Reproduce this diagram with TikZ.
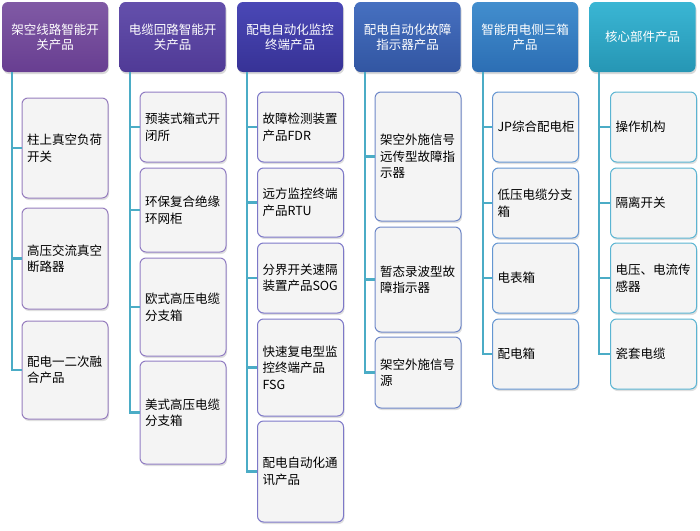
\documentclass[tikz,border=0pt]{standalone}
\usepackage{fontspec}
\setmainfont{Noto Sans CJK SC}
\usetikzlibrary{shadows}

\definecolor{hdA}{RGB}{128,90,165}  \definecolor{hdAd}{RGB}{104,62,145}
\definecolor{hdB}{RGB}{100,80,172}  \definecolor{hdBd}{RGB}{80,58,150}
\definecolor{hdC}{RGB}{74,72,182}   \definecolor{hdCd}{RGB}{55,50,150}
\definecolor{hdD}{RGB}{70,112,192}  \definecolor{hdDd}{RGB}{50,86,162}
\definecolor{hdE}{RGB}{66,142,206}  \definecolor{hdEd}{RGB}{44,110,180}
\definecolor{hdF}{RGB}{58,182,212}  \definecolor{hdFd}{RGB}{38,150,180}
\definecolor{lfA}{RGB}{150,125,190}
\definecolor{lfB}{RGB}{145,125,195}
\definecolor{lfC}{RGB}{125,120,200}
\definecolor{lfD}{RGB}{110,135,200}
\definecolor{lfE}{RGB}{100,150,210}
\definecolor{lfF}{RGB}{90,180,210}
\definecolor{trunkc}{RGB}{75,172,198}
\definecolor{leaffill}{RGB}{244,244,244}

\tikzset{
  head/.style={rectangle, rounded corners=6pt, minimum width=106pt, minimum height=70pt,
    text=white, align=center, inner sep=2pt, font=\fontsize{12.5}{15}\selectfont,
    drop shadow={opacity=0.3, shadow xshift=1pt, shadow yshift=-2pt}},
  leaf/.style={rectangle, rounded corners=6pt, draw=#1, line width=1pt, fill=leaffill,
    minimum width=86pt, text width=76pt, inner xsep=5pt, align=left,
    font=\fontsize{12.5}{16.5}\selectfont,
    drop shadow={opacity=0.25, shadow xshift=1pt, shadow yshift=-2pt}},
  trunk/.style={draw=trunkc, line width=2.5pt},
}

\begin{document}
\begin{tikzpicture}[x=1pt, y=-1pt]
        \useasboundingbox (0,0) rectangle (700,530);

        % headers
        \node[head, top color=hdA, bottom color=hdAd] (h1) at (55,37) {架空线路智能开\\关产品};
        \node[head, top color=hdB, bottom color=hdBd] (h2) at (172.5,37) {电缆回路智能开\\关产品};
        \node[head, top color=hdC, bottom color=hdCd] (h3) at (290,37) {配电自动化监控\\终端产品};
        \node[head, top color=hdD, bottom color=hdDd] (h4) at (407.5,37) {配电自动化故障\\指示器产品};
        \node[head, top color=hdE, bottom color=hdEd] (h5) at (525,37) {智能用电侧三箱\\产品};
        \node[head, top color=hdF, bottom color=hdFd] (h6) at (642.5,37) {核心部件产品};

        \coordinate (t1) at (12,72);
        \coordinate (t2) at (130,72);
        \coordinate (t3) at (247,72);
        \coordinate (t4) at (365,72);
        \coordinate (t5) at (483,72);
        \coordinate (t6) at (599,72);

        % column 1
        \node[leaf=lfA, minimum height=100pt] (a1) at (65,148) {柱上真空负荷\\开关};
        \node[leaf=lfA, minimum height=101pt] (a2) at (65,258.5) {高压交流真空\\断路器};
        \node[leaf=lfA, minimum height=98pt] (a3) at (65,370) {配电一二次融\\合产品};

        % column 2
        \node[leaf=lfB, minimum height=70pt] (b1) at (183,127) {预装式箱式开\\闭所};
        \node[leaf=lfB, minimum height=84pt] (b2) at (183,210) {环保复合绝缘\\环网柜};
        \node[leaf=lfB, minimum height=98pt] (b3) at (183,307) {欧式高压电缆\\分支箱};
        \node[leaf=lfB, minimum height=103pt] (b4) at (183,412.5) {美式高压电缆\\分支箱};

        % column 3
        \node[leaf=lfC, minimum height=70pt] (c1) at (300.5,127) {故障检测装置\\产品FDR};
        \node[leaf=lfC, minimum height=69pt] (c2) at (300.5,202.5) {远方监控终端\\产品RTU};
        \node[leaf=lfC, minimum height=70pt] (c3) at (300.5,278) {分界开关速隔\\装置产品SOG};
        \node[leaf=lfC, minimum height=97pt] (c4) at (300.5,367.5) {快速复电型监\\控终端产品\\FSG};
        \node[leaf=lfC, minimum height=101pt] (c5) at (300.5,471.5) {配电自动化通\\讯产品};

        % column 4
        \node[leaf=lfD, minimum height=129pt] (d1) at (418,156.5) {架空外施信号\\远传型故障指\\示器};
        \node[leaf=lfD, minimum height=105pt] (d2) at (418,279.5) {暂态录波型故\\障指示器};
        \node[leaf=lfD, minimum height=71pt] (d3) at (418,372.5) {架空外施信号\\源};

        % column 5
        \node[leaf=lfE, minimum height=70pt] (e1) at (535.5,127) {JP综合配电柜};
        \node[leaf=lfE, minimum height=70pt] (e2) at (535.5,203) {低压电缆分支\\箱};
        \node[leaf=lfE, minimum height=70pt] (e3) at (535.5,278) {电表箱};
        \node[leaf=lfE, minimum height=70pt] (e4) at (535.5,354) {配电箱};

        % column 6
        \node[leaf=lfF, minimum height=70pt] (f1) at (653.5,127) {操作机构};
        \node[leaf=lfF, minimum height=70pt] (f2) at (653.5,203) {隔离开关};
        \node[leaf=lfF, minimum height=70pt] (f3) at (653.5,278) {电压、电流传\\感器};
        \node[leaf=lfF, minimum height=70pt] (f4) at (653.5,354) {瓷套电缆};

        % connectors
        \foreach \t/\l in {t1/a1, t1/a2, t1/a3, t2/b1, t2/b2, t2/b3, t2/b4,
            t3/c1, t3/c2, t3/c3, t3/c4, t3/c5, t4/d1, t4/d2, t4/d3,
            t5/e1, t5/e2, t5/e3, t5/e4, t6/f1, t6/f2, t6/f3, t6/f4}
            \draw[trunk] (\t) |- (\l.west);

    \end{tikzpicture}
\end{document}
